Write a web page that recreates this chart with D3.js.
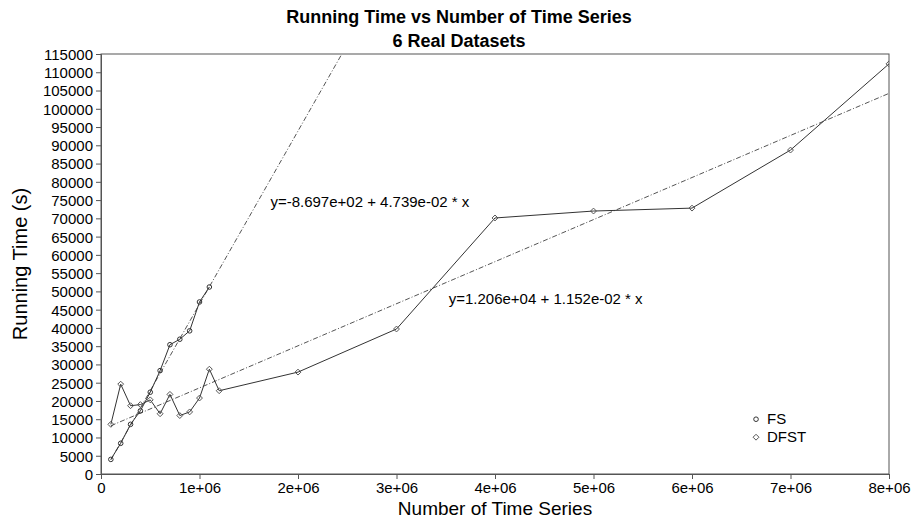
<!DOCTYPE html>
<html>
<head>
<meta charset="utf-8">
<script src="https://cdn.jsdelivr.net/npm/d3@7"></script>
<style>
  body { margin: 0; background: #fff; }
  text { font-family: "Liberation Sans", Arial, sans-serif; fill: #000; }
</style>
</head>
<body>
<div id="chart"></div>
<script>
// FS series (circles)
const fsX = [1e5, 2e5, 3e5, 4e5, 5e5, 6e5, 7e5, 8e5, 9e5, 1e6, 1.1e6];
const fsY = [4000, 8400, 13600, 17300, 22400, 28300, 35400, 36900, 39200, 47100, 51200];

// DFST series (diamonds)
const dfstX = [1e5, 2e5, 3e5, 4e5, 5e5, 6e5, 7e5, 8e5, 9e5, 1e6, 1.1e6, 1.2e6, 2e6, 3e6, 4e6, 5e6, 6e6, 7e6, 8e6];
const dfstY = [13600, 24600, 18700, 19000, 20300, 16500, 21800, 16000, 17000, 20800, 28700, 22800, 27900, 39700, 70100, 72000, 72800, 88700, 112300];

// linear fits (intercept, slope)
const fsFit = [-869.7, 4.739e-02];
const dfstFit = [1.206e+04, 1.152e-02];
const fitLabels = ["y=-8.697e+02 + 4.739e-02 * x", "y=1.206e+04 + 1.152e-02 * x"];

const xTicks = [0, 1e6, 2e6, 3e6, 4e6, 5e6, 6e6, 7e6, 8e6];
const xTickLabels = ["0", "1e+06", "2e+06", "3e+06", "4e+06", "5e+06", "6e+06", "7e+06", "8e+06"];
const yTicks = d3.range(0, 115001, 5000);

const width = 914, height = 518;
const margin = { top: 54, right: 25, bottom: 44, left: 101 };
const iw = width - margin.left - margin.right;
const ih = height - margin.top - margin.bottom;

const svg = d3.select('#chart').append('svg')
  .attr('width', width)
  .attr('height', height);

const x = d3.scaleLinear().domain([0, 8e6]).range([0, iw]);
const y = d3.scaleLinear().domain([0, 115000]).range([ih, 0]);

const g = svg.append('g').attr('transform', `translate(${margin.left},${margin.top})`);

svg.append('defs').append('clipPath').attr('id', 'clip')
  .append('rect').attr('width', iw).attr('height', ih);

// box
g.append('rect')
  .attr('width', iw).attr('height', ih)
  .attr('fill', 'none').attr('stroke', '#555').attr('stroke-width', 1);

// axes
const xAxis = g.append('g').attr('transform', `translate(0,${ih})`)
  .call(d3.axisBottom(x).tickValues(xTicks).tickSize(5).tickFormat((d, i) => xTickLabels[i]));
const yAxis = g.append('g')
  .call(d3.axisLeft(y).tickValues(yTicks).tickSize(5).tickFormat(d3.format('d')));
[xAxis, yAxis].forEach(a => {
  a.select('.domain').attr('stroke', '#555');
  a.selectAll('.tick line').attr('stroke', '#555');
  a.selectAll('text').style('font-size', '15px').style('font-family', '"Liberation Sans", Arial, sans-serif').attr('fill', '#000');
});
xAxis.selectAll('text').attr('dy', '0.75em');
yAxis.selectAll('text').attr('dy', '0.36em');

const plot = g.append('g').attr('clip-path', 'url(#clip)');

// fit lines
const fitExtent = [1e5, 8e6];
[fsFit, dfstFit].forEach(f => {
  plot.append('line')
    .attr('x1', x(fitExtent[0])).attr('y1', y(f[0] + f[1] * fitExtent[0]))
    .attr('x2', x(fitExtent[1])).attr('y2', y(f[0] + f[1] * fitExtent[1]))
    .attr('stroke', '#555').attr('stroke-width', 1)
    .attr('stroke-dasharray', '5,2,1,2');
});

const line = d3.line().x(d => x(d[0])).y(d => y(d[1]));
const fsData = fsX.map((v, i) => [v, fsY[i]]);
const dfstData = dfstX.map((v, i) => [v, dfstY[i]]);

plot.append('path').datum(fsData).attr('d', line)
  .attr('fill', 'none').attr('stroke', '#333').attr('stroke-width', 1);
plot.append('path').datum(dfstData).attr('d', line)
  .attr('fill', 'none').attr('stroke', '#333').attr('stroke-width', 1);

plot.selectAll('.fs').data(fsData).enter().append('circle')
  .attr('cx', d => x(d[0])).attr('cy', d => y(d[1])).attr('r', 2.3)
  .attr('fill', 'none').attr('stroke', '#333').attr('stroke-width', 1);

const diamond = d3.symbol().type(d3.symbolDiamond2).size(22);
plot.selectAll('.dfst').data(dfstData).enter().append('path')
  .attr('d', diamond)
  .attr('transform', d => `translate(${x(d[0])},${y(d[1])})`)
  .attr('fill', 'none').attr('stroke', '#555').attr('stroke-width', 1);

// fit labels
g.append('text').attr('x', x(1.72e6)).attr('y', y(73200))
  .style('font-size', '15px').text(fitLabels[0]);
g.append('text').attr('x', x(3.53e6)).attr('y', y(46600))
  .style('font-size', '15px').text(fitLabels[1]);

// legend
const leg = g.append('g').attr('transform', `translate(${x(6.65e6)},${y(15000)})`);
leg.append('circle').attr('cx', 0).attr('cy', 0).attr('r', 2.3)
  .attr('fill', 'none').attr('stroke', '#333');
leg.append('path').attr('d', diamond).attr('transform', 'translate(0,18)')
  .attr('fill', 'none').attr('stroke', '#555');
leg.append('text').attr('x', 11).attr('y', 5).style('font-size', '15px').text('FS');
leg.append('text').attr('x', 11).attr('y', 23).style('font-size', '15px').text('DFST');

// titles
svg.append('text').attr('x', 459).attr('y', 23).attr('text-anchor', 'middle')
  .style('font-size', '18px').style('font-weight', 'bold')
  .text('Running Time vs Number of Time Series');
svg.append('text').attr('x', 459).attr('y', 47).attr('text-anchor', 'middle')
  .style('font-size', '18px').style('font-weight', 'bold')
  .text('6 Real Datasets');

svg.append('text').attr('x', 495).attr('y', 515).attr('text-anchor', 'middle')
  .style('font-size', '19px').text('Number of Time Series');
svg.append('text').attr('transform', 'translate(27,264) rotate(-90)')
  .attr('text-anchor', 'middle').style('font-size', '20px').text('Running Time (s)');
</script>
</body>
</html>
